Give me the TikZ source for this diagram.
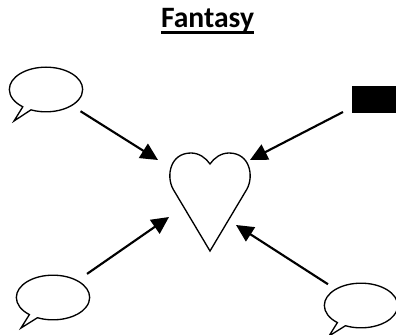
\documentclass[tikz,border=0pt]{standalone}
\usepackage{fontspec}
\setmainfont{Carlito}
\usetikzlibrary{shapes.callouts,arrows.meta}

\begin{document}
\begin{tikzpicture}[
        x=0.75pt, y=-0.75pt,
        bubble/.style={ellipse callout, draw, line width=1pt, inner sep=0pt, outer sep=0pt, minimum width=55pt, minimum height=33.5pt, callout pointer width=11pt},
        arrow/.style={-{Triangle[length=13pt,width=12.5pt]}, line width=1.6pt}
    ]
        \useasboundingbox (0,0) rectangle (396,335);

        % Nodes
        \node[font=\bfseries\fontsize{22.2}{24}\selectfont, inner sep=0pt, text depth=0pt, anchor=base] (title) at (207.5,28) {Fantasy};
        \node[bubble, callout absolute pointer={(14,121)}] (speechA) at (46,89.5) {};
        \node[bubble, callout absolute pointer={(21,328)}] (speechB) at (53,297.5) {};
        \node[bubble, callout absolute pointer={(329,336)}] (speechC) at (361,305.5) {};
        \node[fill=black, inner sep=0pt, minimum width=33pt, minimum height=20.5pt] (box) at (374,99.5) {};

        % Heart
        \draw[line width=1pt] (210,251) -- (247,189) .. controls (254,176) and (250,153) .. (229,153)
            .. controls (221,153) and (214,158) .. (210,164) .. controls (206,158) and (199,153) .. (191,153)
            .. controls (170,153) and (166,176) .. (173,189) -- cycle;
        \coordinate (heartA) at (158,160);
        \coordinate (heartB) at (250,160);
        \coordinate (heartC) at (169,217);
        \coordinate (heartD) at (236,225);
        \coordinate (boxEnd) at (343,112);

        % Arrows
        \draw[line width=2.3pt] ([yshift=-3.4pt]title.south west) -- ([yshift=-3.4pt]title.south east);
        \draw[arrow, shorten <=8pt] (speechA) -- (heartA);
        \draw[arrow] (boxEnd) -- (heartB);
        \draw[arrow, shorten <=9pt] (speechB) -- (heartC);
        \draw[arrow, shorten <=7pt] (speechC) -- (heartD);
    \end{tikzpicture}
\end{document}
